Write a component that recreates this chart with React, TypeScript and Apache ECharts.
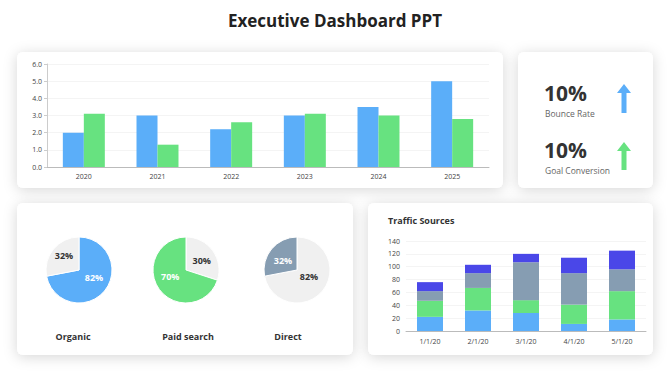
import React, { useEffect, useRef } from "react";
import * as echarts from "echarts";

const years = ["2020", "2021", "2022", "2023", "2024", "2025"];
const blueValues = [2.0, 3.0, 2.2, 3.0, 3.5, 5.0];
const greenValues = [3.1, 1.3, 2.6, 3.1, 3.0, 2.8];

const trafficDates = ["1/1/20", "2/1/20", "3/1/20", "4/1/20", "5/1/20"];
const trafficBlue = [22, 32, 28, 11, 18];
const trafficGreen = [25, 35, 20, 30, 44];
const trafficSlate = [15, 23, 59, 49, 34];
const trafficPurple = [14, 13, 13, 24, 29];

const pieNames = ["Organic", "Paid search", "Direct"];
const organicValues = [72, 28];
const organicLabels = ["82%", "32%"];
const paidValues = [30, 70];
const paidLabels = ["30%", "70%"];
const directValues = [72, 28];
const directLabels = ["82%", "32%"];

const kpiValues = ["10%", "10%"];
const kpiNames = ["Bounce Rate", "Goal Conversion"];

const BLUE = "#5BAEF9";
const GREEN = "#67E280";
const SLATE = "#869DB2";
const PURPLE = "#4A47E8";
const LIGHT = "#F0F0F0";
const FONT = "'Open Sans', sans-serif";

function card(x: number, y: number, w: number, h: number) {
  return {
    type: "rect",
    z: -10,
    shape: { x, y, width: w, height: h, r: 6 },
    style: {
      fill: "#fff",
      shadowBlur: 14,
      shadowColor: "rgba(0,0,0,0.16)",
      shadowOffsetX: 0,
      shadowOffsetY: 2,
    },
  };
}

function arrow(cx: number, top: number, bottom: number, color: string) {
  const headH = 9;
  return {
    type: "polygon",
    z: 5,
    shape: {
      points: [
        [cx, top],
        [cx + 7, top + headH],
        [cx + 2.5, top + headH],
        [cx + 2.5, bottom],
        [cx - 2.5, bottom],
        [cx - 2.5, top + headH],
        [cx - 7, top + headH],
      ],
    },
    style: { fill: color },
  };
}

function pie(
  center: [number, number],
  values: number[],
  labels: string[],
  colors: string[],
  labelColors: string[],
  shifts: [number, number][]
) {
  return {
    type: "pie",
    center,
    radius: 33,
    startAngle: 90,
    clockwise: true,
    silent: true,
    label: {
      show: true,
      position: "inside",
      fontSize: 9,
      fontWeight: "bold",
      fontFamily: FONT,
    },
    labelLine: { show: false },
    labelLayout: (p: any) => ({ dx: shifts[p.dataIndex][0], dy: shifts[p.dataIndex][1] }),
    itemStyle: { borderColor: "#fff", borderWidth: 1 },
    data: values.map((v, i) => ({
      value: v,
      itemStyle: { color: colors[i] },
      label: { formatter: labels[i], color: labelColors[i] },
    })),
  };
}

function kpi(value: string, name: string, baseY: number) {
  return [
    {
      type: "text",
      x: 544,
      y: baseY,
      style: {
        text: value,
        fontSize: 21,
        fontWeight: "bold",
        fill: "#333",
        fontFamily: FONT,
        verticalAlign: "bottom",
      },
    },
    {
      type: "text",
      x: 545,
      y: baseY + 6,
      style: { text: name, fontSize: 8.5, fill: "#666", fontFamily: FONT, verticalAlign: "top" },
    },
  ];
}

export default function App() {
  const ref = useRef<HTMLDivElement>(null);
  useEffect(() => {
    document.body.style.margin = "0";
    const chart = echarts.init(ref.current!, undefined, { renderer: "svg" });
    const axisLabel = { fontSize: 7, color: "#444", fontFamily: FONT };
    const option: any = {
      animation: false,
      backgroundColor: "#fff",
      title: {
        text: "Executive Dashboard PPT",
        left: "center",
        top: 7,
        textStyle: { fontSize: 17, fontWeight: "bold", color: "#222", fontFamily: FONT },
      },
      grid: [
        { left: 47, top: 64, right: 181, bottom: 209 },
        { left: 406, top: 241, right: 24, bottom: 45 },
      ],
      xAxis: [
        {
          gridIndex: 0,
          type: "category",
          data: years,
          axisLine: { lineStyle: { color: "#bbb" } },
          axisTick: { lineStyle: { color: "#bbb" }, length: 3 },
          axisLabel: { ...axisLabel, margin: 6 },
        },
        {
          gridIndex: 1,
          type: "category",
          data: trafficDates,
          axisLine: { lineStyle: { color: "#bbb" } },
          axisTick: { lineStyle: { color: "#bbb" }, length: 3 },
          axisLabel: { ...axisLabel, margin: 7 },
        },
      ],
      yAxis: [
        {
          gridIndex: 0,
          type: "value",
          min: 0,
          max: 6,
          interval: 1,
          axisLine: { show: true, lineStyle: { color: "#ccc" } },
          axisTick: { show: true, length: 3, lineStyle: { color: "#ccc" } },
          splitLine: { lineStyle: { color: "#f4f4f4" } },
          axisLabel: { ...axisLabel, margin: 5, formatter: (v: number) => v.toFixed(1) },
        },
        {
          gridIndex: 1,
          type: "value",
          min: 0,
          max: 140,
          interval: 20,
          axisLine: { show: false },
          axisTick: { show: false },
          splitLine: { lineStyle: { color: "#f4f4f4" } },
          axisLabel: { ...axisLabel, margin: 6 },
        },
      ],
      series: [
        {
          type: "bar",
          xAxisIndex: 0,
          yAxisIndex: 0,
          data: blueValues,
          barGap: "0%",
          barCategoryGap: "43%",
          itemStyle: { color: BLUE },
          silent: true,
        },
        {
          type: "bar",
          xAxisIndex: 0,
          yAxisIndex: 0,
          data: greenValues,
          barGap: "0%",
          barCategoryGap: "43%",
          itemStyle: { color: GREEN },
          silent: true,
        },
        ...[
          [trafficBlue, BLUE],
          [trafficGreen, GREEN],
          [trafficSlate, SLATE],
          [trafficPurple, PURPLE],
        ].map(([d, c]) => ({
          type: "bar",
          xAxisIndex: 1,
          yAxisIndex: 1,
          stack: "traffic",
          data: d,
          barWidth: 26,
          itemStyle: { color: c },
          silent: true,
        })),
        pie([79, 270], organicValues, organicLabels, [BLUE, LIGHT], ["#fff", "#333"], [[0, -5], [0, -2]]),
        pie([186, 270], paidValues, paidLabels, [LIGHT, GREEN], ["#333", "#fff"], [[0, 2], [0, -5]]),
        pie([297, 270], directValues, directLabels, [LIGHT, SLATE], ["#333", "#fff"], [[-3, -6], [1, 3]]),
      ],
      graphic: [
        card(17, 52, 486, 136),
        card(518, 52, 135, 136),
        card(17, 203, 336, 152),
        card(368, 203, 285, 152),
        ...kpi(kpiValues[0], kpiNames[0], 103),
        ...kpi(kpiValues[1], kpiNames[1], 160),
        arrow(624, 84, 113, BLUE),
        arrow(624, 142, 170, GREEN),
        ...pieNames.map((n, i) => ({
          type: "text",
          x: [73, 188, 288][i],
          y: 336,
          style: {
            text: n,
            fontSize: 9,
            fontWeight: "bold",
            fill: "#333",
            fontFamily: FONT,
            align: "center",
            verticalAlign: "middle",
          },
        })),
        {
          type: "text",
          x: 388,
          y: 220,
          style: {
            text: "Traffic Sources",
            fontSize: 9,
            fontWeight: "bold",
            fill: "#333",
            fontFamily: FONT,
            verticalAlign: "middle",
          },
        },
      ],
    };
    chart.setOption(option);
    return () => chart.dispose();
  }, []);
  return (
    <div
      ref={ref}
      style={{ position: "fixed", left: 0, top: 0, width: 670, height: 376 }}
    />
  );
}
